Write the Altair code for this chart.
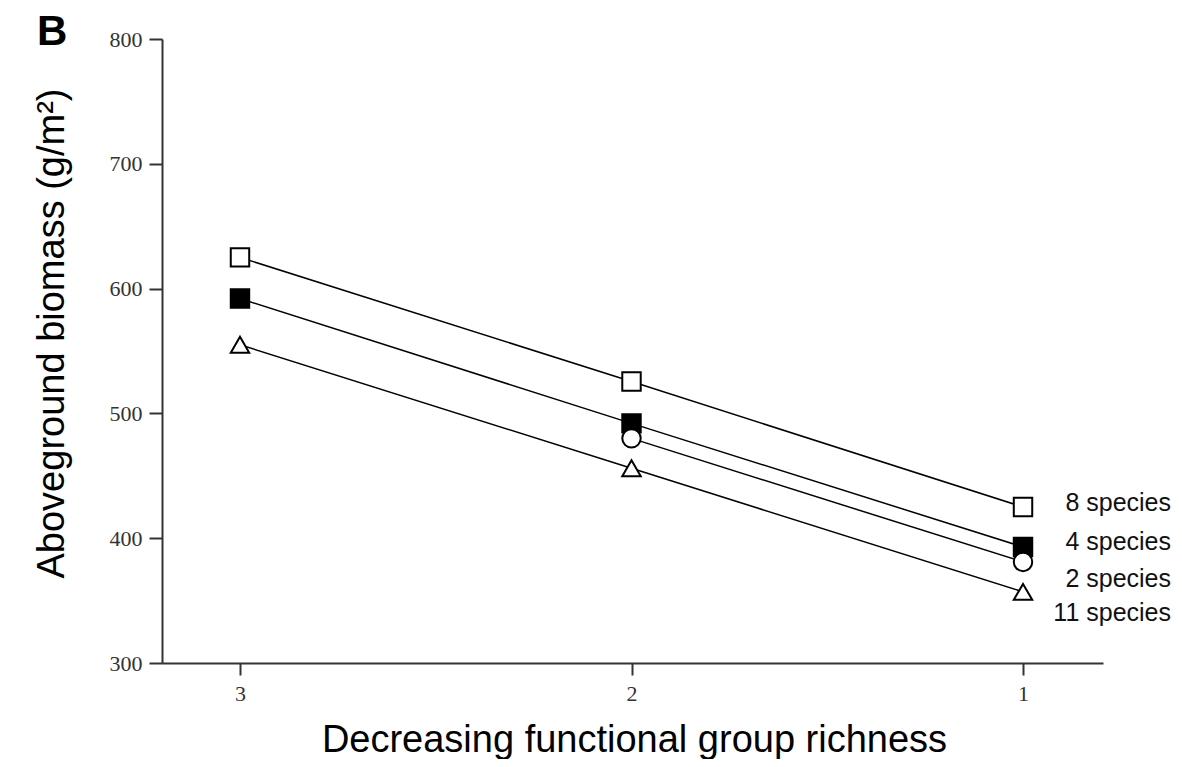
import altair as alt
import pandas as pd

# ---- data ----
richness = [3, 2, 1]
series_names = ["8 species", "4 species", "2 species", "11 species"]
biomass_8 = [625, 525.5, 425]
biomass_4 = [592, 492, 393]
biomass_2 = [None, 480, 381]
biomass_11 = [555, 456, 357]
label_y = [428, 397, 367, 340]
y_ticks = [300, 400, 500, 600, 700, 800]

shape_range = ["square", "square", "circle", "triangle-up"]
fill_range = ["white", "black", "white", "white"]
size_range = [340, 340, 370, 560]

rows = []
for name, vals in zip(series_names, [biomass_8, biomass_4, biomass_2, biomass_11]):
    for r, v in zip(richness, vals):
        if v is not None:
            rows.append({"richness": r, "biomass": v, "series": name})
df = pd.DataFrame(rows)
lab = pd.DataFrame({"series": series_names, "biomass": label_y})
panel = pd.DataFrame({"t": ["B"]})

W, H = 941, 624

x_enc = alt.X(
    "richness:Q",
    scale=alt.Scale(domain=[0.7957, 3.1992], reverse=True, nice=False, zero=False),
    axis=alt.Axis(
        values=richness, format="d", grid=False,
        title="Decreasing functional group richness",
        labelFont="Liberation Serif", labelFontSize=22, labelColor="#333",
        tickSize=12, tickWidth=2, tickColor="#333",
        domainWidth=2, domainColor="#333", labelPadding=8,
        titleFont="Liberation Sans", titleFontSize=38, titleFontWeight="normal",
        titleColor="black", titleX=472, titleY=88, titleAlign="center",
        titleBaseline="alphabetic",
    ),
)
y_enc = alt.Y(
    "biomass:Q",
    scale=alt.Scale(domain=[300, 800], nice=False, zero=False),
    axis=alt.Axis(
        values=y_ticks, grid=False,
        title="Aboveground biomass (g/m²)",
        labelFont="Liberation Serif", labelFontSize=22, labelColor="#333",
        tickSize=13, tickWidth=2, tickColor="#333",
        domainWidth=2, domainColor="#333", labelPadding=7,
        titleFont="Liberation Sans", titleFontSize=38, titleFontWeight="normal",
        titleColor="black", titleAngle=270, titleX=-99, titleY=294,
        titleAlign="center", titleBaseline="alphabetic",
    ),
)

base = alt.Chart(df)
lines = base.mark_line(color="black", strokeWidth=1.5).encode(
    x=x_enc, y=y_enc, detail="series:N"
)
points = base.mark_point(filled=True, stroke="black", strokeWidth=2, opacity=1).encode(
    x=x_enc,
    y=y_enc,
    shape=alt.Shape("series:N", scale=alt.Scale(domain=series_names, range=shape_range), legend=None),
    fill=alt.Fill("series:N", scale=alt.Scale(domain=series_names, range=fill_range), legend=None),
    size=alt.Size("series:N", scale=alt.Scale(domain=series_names, range=size_range), legend=None),
)
labels = alt.Chart(lab).mark_text(
    align="right", baseline="middle", font="Liberation Sans", fontSize=25, color="#111"
).encode(x=alt.value(1009), y=y_enc, text="series:N")

panel_letter = alt.Chart(panel).mark_text(
    align="left", baseline="alphabetic", font="Liberation Sans", fontSize=42,
    fontWeight="bold", color="black"
).encode(x=alt.value(-125), y=alt.value(6), text="t:N")

chart = alt.layer(lines, points, labels, panel_letter).properties(
    width=W, height=H,
    autosize=alt.AutoSizeParams(type="none"),
    padding={"left": 154, "top": 31, "right": 71, "bottom": 96},
    background="white",
).configure_view(stroke=None)

chart.save("out.html", embed_options={"renderer": "svg", "actions": False})
